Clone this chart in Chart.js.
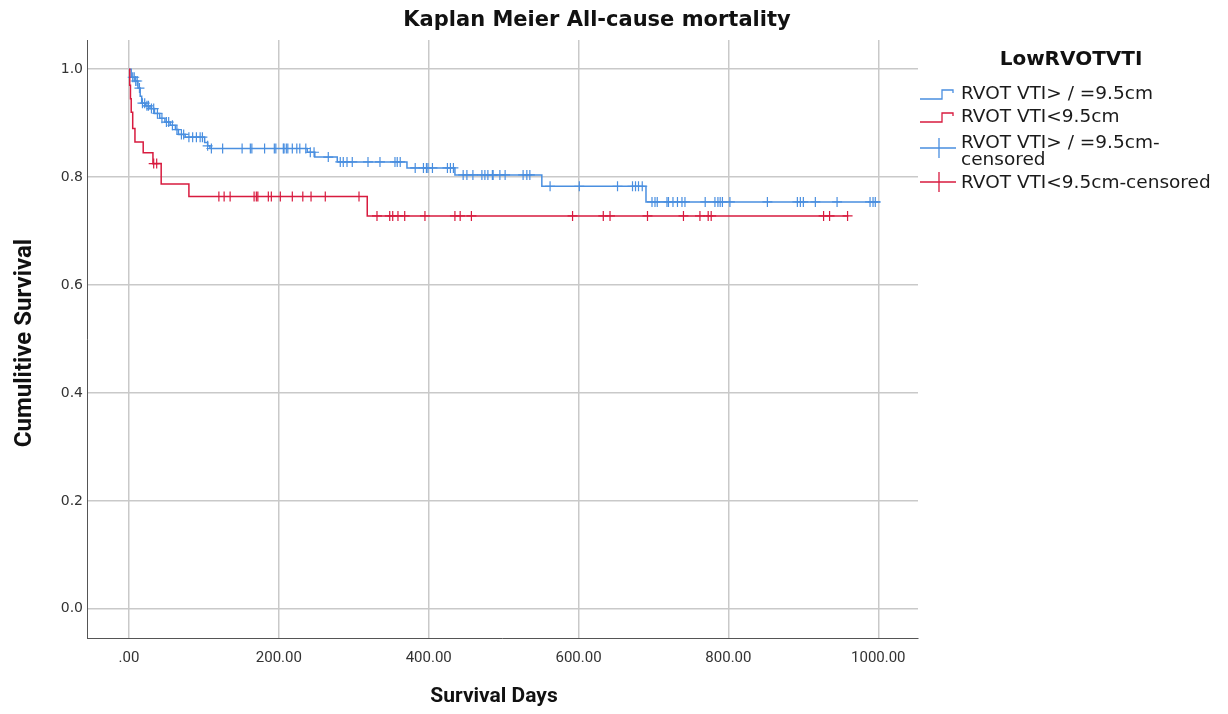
<!DOCTYPE html>
<html>
<head>
<meta charset="utf-8">
<title>Kaplan Meier All-cause mortality</title>
<script src="https://cdn.jsdelivr.net/npm/chart.js@4.4.1/dist/chart.umd.min.js"></script>
<style>
  html, body { margin: 0; padding: 0; background: #fff; }
  #wrap { width: 1228px; height: 714px; position: relative; }
</style>
</head>
<body>
<div id="wrap"><canvas id="kmChart" width="1228" height="714"></canvas></div>
<script>
// ---- data ----
const blueDays = [0, 3, 8, 12, 15, 17, 22, 28, 34, 41, 48, 55, 62, 66, 75, 101, 105, 108, 238, 248, 278, 371, 435, 551, 690, 1003];
const blueSurv = [1.0, 0.985, 0.978, 0.965, 0.95, 0.937, 0.932, 0.927, 0.918, 0.909, 0.902, 0.896, 0.888, 0.879, 0.874, 0.864, 0.858, 0.853, 0.846, 0.837, 0.828, 0.817, 0.804, 0.783, 0.754, 0.754];
const blueCensorDays = [5, 7, 9, 11, 14, 18, 21, 24, 26, 30, 33, 38, 44, 50, 53, 58, 64, 70, 73, 80, 85, 90, 95, 98, 105, 110, 125, 151, 162, 164, 181, 194, 196, 206, 207, 210, 212, 218, 224, 228, 236, 242, 247, 266, 282, 286, 291, 298, 319, 335, 355, 358, 362, 382, 393, 397, 399, 405, 425, 429, 433, 446, 451, 459, 471, 475, 479, 485, 486, 495, 502, 526, 531, 535, 562, 601, 652, 672, 676, 680, 685, 698, 702, 705, 718, 720, 726, 732, 738, 742, 769, 782, 786, 789, 792, 802, 852, 892, 896, 900, 916, 945, 989, 993, 996];

const redDays = [0, 1, 2, 3, 5, 8, 19, 32, 43, 80, 318, 960];
const redSurv = [1.0, 0.97, 0.945, 0.92, 0.89, 0.865, 0.845, 0.825, 0.787, 0.764, 0.728, 0.728];
const redCensorDays = [33, 37, 120, 127, 135, 167, 170, 172, 186, 190, 202, 218, 232, 243, 262, 307, 331, 348, 352, 359, 368, 395, 435, 442, 457, 592, 633, 642, 692, 740, 762, 773, 777, 927, 935, 959];

const xTicks = [0, 200, 400, 600, 800, 1000];
const yTicks = [0, 0.2, 0.4, 0.6, 0.8, 1.0];

const seriesNames = ["RVOT VTI> / =9.5cm", "RVOT VTI<9.5cm"];
const chartTitle = "Kaplan Meier All-cause mortality";
const legendTitle = "LowRVOTVTI";

const BLUE = "#4a8fe0";
const RED = "#d81b3f";
const FONT = "Roboto, 'Liberation Sans', sans-serif";
const LEG_FONT = "'DejaVu Sans', 'Open Sans', sans-serif";

// survival value at a censoring time = last step at or before it
function survAt(days, surv, t) {
    let s = surv[0];
    for (let i = 0; i < days.length; i++) {
        if (days[i] <= t) s = surv[i];
    }
    return s;
}

const toPoints = (days, surv) => days.map((d, i) => ({ x: d, y: surv[i] }));
const toCensor = (cd, days, surv) => cd.map(d => ({ x: d, y: survAt(days, surv, d) }));

// ---- titles + legend drawn on canvas ----
const kmTexts = {
    id: "kmTexts",
    afterDraw(chart) {
        const ctx = chart.ctx;
        ctx.save();
        ctx.fillStyle = "#111";
        ctx.textAlign = "center";
        ctx.textBaseline = "middle";

        ctx.font = "bold 21px " + LEG_FONT;
        ctx.fillText(chartTitle, 597, 21);

        ctx.font = "bold 21px " + FONT;
        ctx.fillText("Survival Days", 494, 697);

        ctx.save();
        ctx.translate(25, 343);
        ctx.rotate(-Math.PI / 2);
        ctx.font = "bold 24px " + FONT;
        ctx.fillText("Cumulitive Survival", 0, 0);
        ctx.restore();

        // legend
        ctx.font = "bold 20px " + LEG_FONT;
        ctx.fillText(legendTitle, 1071, 60);

        function stepIcon(y, color) {
            ctx.strokeStyle = color;
            ctx.lineWidth = 1.3;
            ctx.beginPath();
            ctx.moveTo(920, y + 5);
            ctx.lineTo(942, y + 5);
            ctx.lineTo(942, y - 4);
            ctx.lineTo(953, y - 4);
            ctx.lineTo(953, y - 1);
            ctx.stroke();
        }
        function crossIcon(y, color) {
            ctx.strokeStyle = color;
            ctx.lineWidth = 1.3;
            ctx.beginPath();
            ctx.moveTo(920, y);
            ctx.lineTo(956, y);
            ctx.moveTo(939, y - 10);
            ctx.lineTo(939, y + 10);
            ctx.stroke();
        }

        stepIcon(94, BLUE);
        stepIcon(117, RED);
        crossIcon(148, BLUE);
        crossIcon(182, RED);

        ctx.textAlign = "left";
        ctx.fillStyle = "#1a1a1a";
        ctx.font = "18.5px " + LEG_FONT;
        ctx.fillText(seriesNames[0], 961, 94);
        ctx.fillText(seriesNames[1], 961, 117);
        ctx.fillText(seriesNames[0] + "-", 961, 143);
        ctx.fillText("censored", 961, 160);
        ctx.fillText(seriesNames[1] + "-censored", 961, 183);

        ctx.restore();
    }
};

const ctx = document.getElementById("kmChart").getContext("2d");
new Chart(ctx, {
    type: "line",
    data: {
        datasets: [
            {
                label: seriesNames[0],
                data: toPoints(blueDays, blueSurv),
                borderColor: BLUE,
                borderWidth: 1.5,
                stepped: true,
                pointRadius: 0,
                fill: false,
                order: 2
            },
            {
                label: seriesNames[1],
                data: toPoints(redDays, redSurv),
                borderColor: RED,
                borderWidth: 1.5,
                stepped: true,
                pointRadius: 0,
                fill: false,
                order: 1
            },
            {
                label: seriesNames[0] + "-censored",
                data: toCensor(blueCensorDays, blueDays, blueSurv),
                showLine: false,
                pointStyle: "cross",
                pointRadius: 5,
                pointBorderWidth: 1.2,
                pointBorderColor: BLUE,
                order: 2
            },
            {
                label: seriesNames[1] + "-censored",
                data: toCensor(redCensorDays, redDays, redSurv),
                showLine: false,
                pointStyle: "cross",
                pointRadius: 5,
                pointBorderWidth: 1.2,
                pointBorderColor: RED,
                order: 1
            }
        ]
    },
    options: {
        responsive: false,
        animation: false,
        layout: { padding: { left: 0, right: 310, top: 40, bottom: 0 } },
        plugins: {
            legend: { display: false },
            title: { display: false },
            tooltip: { enabled: false }
        },
        scales: {
            x: {
                type: "linear",
                min: -56,
                max: 1053,
                afterBuildTicks: s => { s.ticks = xTicks.map(v => ({ value: v })); },
                afterFit: s => { s.height = 76; },
                ticks: {
                    callback: v => v === 0 ? ".00" : v.toFixed(2),
                    font: { family: FONT, size: 15 },
                    color: "#333",
                    padding: 11,
                    maxRotation: 0,
                    autoSkip: false
                },
                grid: { color: "#c9c9c9", lineWidth: 1.5, drawTicks: false },
                border: { color: "#555", width: 1 }
            },
            y: {
                type: "linear",
                min: -0.054,
                max: 1.054,
                afterBuildTicks: s => { s.ticks = yTicks.map(v => ({ value: v })); },
                afterFit: s => { s.width = 87; },
                ticks: {
                    callback: v => v.toFixed(1),
                    font: { family: LEG_FONT, size: 14 },
                    color: "#333",
                    padding: 4
                },
                grid: { color: "#c9c9c9", lineWidth: 1.5, drawTicks: false },
                border: { color: "#555", width: 1 }
            }
        }
    },
    plugins: [kmTexts]
});
</script>
</body>
</html>
